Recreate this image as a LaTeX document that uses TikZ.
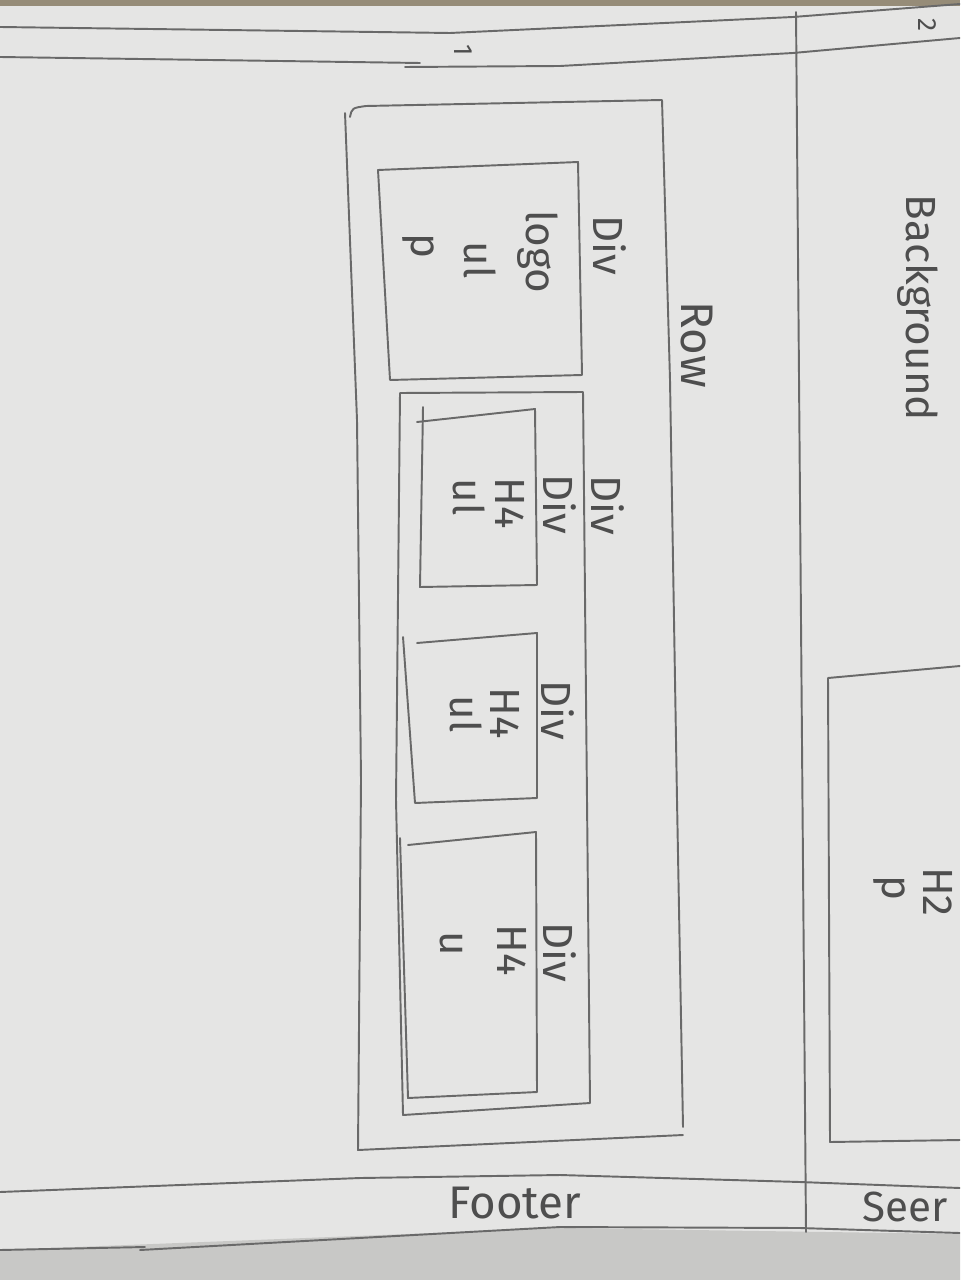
\documentclass[tikz,border=0pt]{standalone}
\usepackage{fontspec}
\setmainfont{Fira Sans}
\definecolor{paper}{RGB}{229,229,228}
\definecolor{paperdark}{RGB}{200,200,198}
\definecolor{pencil}{RGB}{105,105,105}
\definecolor{ink}{RGB}{78,78,78}
\definecolor{tabletop}{RGB}{150,140,120}
\begin{document}
\begin{tikzpicture}[x=0.02cm,y=-0.02cm,
  pen/.style={draw=pencil,line width=1.1pt,line cap=round,line join=round},
  lbl/.style={text=ink,rotate=-90,inner sep=0pt,font=\fontsize{24}{28}\selectfont},
  hlbl/.style={text=ink,inner sep=0pt,font=\fontsize{24}{28}\selectfont},
  small/.style={font=\fontsize{15}{17}\selectfont}]
\useasboundingbox (0,0) rectangle (960,1280);
\clip (0,0) rectangle (960,1280);
% paper
\fill[paper] (0,0) rectangle (960,1280);
\fill[tabletop] (0,0) rectangle (960,6);
\fill[paperdark] (0,1250) -- (560,1228) -- (960,1234) -- (960,1280) -- (0,1280) -- cycle;
% header band lines
\draw[pen] (0,27) -- (300,31) -- (450,33) -- (600,26) -- (793,17) -- (960,4);
\draw[pen] (0,57) -- (420,63);
\draw[pen] (405,67) -- (560,66) -- (793,53) -- (960,38);
% vertical divider
\draw[pen] (796,12) -- (806,1232);
% footer band lines
\draw[pen] (0,1192) -- (360,1178) -- (560,1175) -- (800,1182) -- (960,1188);
\draw[pen] (0,1250) -- (145,1247);
\draw[pen] (140,1250) -- (560,1227) -- (800,1228) -- (960,1233);
% Row box
\draw[pen] (350,117) .. controls (352,108) .. (366,106) -- (662,100) -- (670,380) -- (677,800) -- (683,1127);
\draw[pen] (345,113) -- (357,420) -- (361,780) -- (358,1150) -- (683,1135);
% logo div
\draw[pen] (378,170) -- (578,162) -- (582,375) -- (390,380) -- cycle;
% big div
\draw[pen] (400,393) -- (583,392) -- (587,800) -- (590,1103) -- (403,1115) -- (396,800) -- cycle;
% inner div 1
\draw[pen] (417,422) -- (535,409) -- (537,585) -- (420,587) -- (423,407);
% inner div 2
\draw[pen] (417,643) -- (537,633) -- (537,798) -- (415,803) -- (403,637);
% inner div 3
\draw[pen] (408,845) -- (536,832) -- (537,1092) -- (408,1098) -- (400,838);
% right box
\draw[pen] (960,666) -- (828,678) -- (830,1142) -- (960,1140);
% labels
\node[lbl,small] (n1) at (463,50) {1};
\node[lbl,small] (n2) at (927,25) {2};
\node[lbl] (divlogo) at (610,245) {Div};
\node[lbl] (logo) at (538,252) {logo};
\node[lbl] (ullogo) at (480,260) {ul};
\node[lbl] (plogo) at (418,246) {p};
\node[lbl,font=\fontsize{26}{30}\selectfont] (row) at (697,345) {Row};
\node[lbl] (divbig) at (608,505) {Div};
\node[lbl] (div1) at (560,504) {Div};
\node[lbl] (h41) at (510,503) {H4};
\node[lbl] (ul1) at (469,497) {ul};
\node[lbl] (div2) at (558,710) {Div};
\node[lbl] (h42) at (505,713) {H4};
\node[lbl] (ul2) at (466,714) {ul};
\node[lbl] (div3) at (560,952) {Div};
\node[lbl] (h43) at (512,950) {H4};
\node[lbl] (u3) at (451,944) {u};
\node[lbl] (bg) at (918,308) {Background};
\node[lbl] (pright) at (889,888) {p};
\node[lbl] (h2) at (938,892) {H2};
\node[hlbl,font=\fontsize{26}{30}\selectfont] (footer) at (515,1203) {Footer};
\node[hlbl,anchor=west] (sec) at (862,1207) {Seer};
\end{tikzpicture}
\end{document}
